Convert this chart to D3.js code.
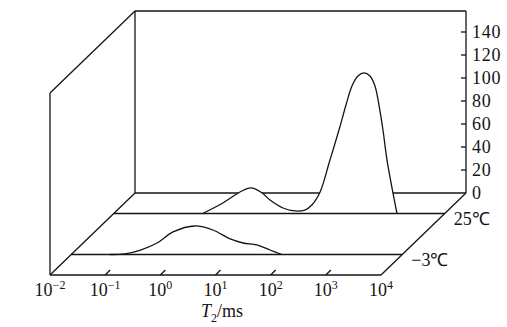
<!DOCTYPE html>
<html>
<head>
<meta charset="utf-8">
<script src="https://cdn.jsdelivr.net/npm/d3@7"></script>
<style>
  html, body { margin: 0; padding: 0; background: #fff; }
  svg { display: block; }
</style>
</head>
<body>
<svg id="chart" width="507" height="327"></svg>
<script>
// T2 spectra at two temperatures, drawn as a pseudo-3D waterfall
const xTicks = [1e-2, 1e-1, 1e0, 1e1, 1e2, 1e3, 1e4];
const xExps = ['−2', '−1', '0', '1', '2', '3', '4'];
const yTicks = [0, 20, 40, 60, 80, 100, 120, 140];

const seriesNames = ['−3℃', '25℃'];
const seriesDepth = [1, 3];          // slot in the depth direction (0 = front, 4 = back)

// T2 (ms) and amplitude
const coldT2  = [0.05, 0.093, 0.18, 0.36, 0.70, 1.75, 3.7, 7.6, 13, 23, 40, 66];
const coldAmp = [0, 0.5, 3.9, 10, 19.6, 24.8, 21.3, 13.5, 10, 8.3, 3.9, 0];

const warmT2  = [0.41, 0.95, 1.94, 3.08, 4.9, 6.8, 11.7, 19.3, 29, 39, 55, 83, 121, 162, 208, 267, 344, 441, 543, 642, 759, 898, 1153, 1362];
const warmAmp = [0, 9.1, 18.7, 22.2, 17.8, 11.7, 4.8, 2.2, 3.0, 7.4, 18.7, 46.5, 72.6, 94.3, 110.9, 119.6, 122.2, 119.6, 110.9, 94.3, 72.6, 46.5, 17.8, 0];

(function() {
    const svg = d3.select('#chart');
    const FONT = '"Liberation Serif", "Times New Roman", serif';
    const INK = '#141414';

    // front plane geometry, depth offset per full depth
    const x = d3.scaleLog().domain([1e-2, 1e4]).range([50, 381]);
    const depth = d3.scaleLinear().domain([0, 4]).range([0, 1]);
    const DX = 85, DY = -82;
    const FRONT_Y = 275;
    const y = d3.scaleLinear().domain([0, 140]).range([193, 32]);   // back plane axis
    const hPx = function(v) { return y(0) - y(v); };
    const curve = d3.curveCatmullRom.alpha(0.5);

    function off(d) { return [DX * depth(d), DY * depth(d)]; }
    function line(x1, y1, x2, y2) {
        svg.append('line')
            .attr('x1', x1).attr('y1', y1).attr('x2', x2).attr('y2', y2)
            .attr('stroke', INK).attr('stroke-width', 1.3);
    }

    const x0 = x.range()[0], x1 = x.range()[1];
    const back = off(4);
    const topY = 11;

    // back plane + left wall
    line(x0 + back[0], topY, x1 + back[0], topY);
    line(x0 + back[0], topY, x0 + back[0], y(0));
    line(x1 + back[0], topY, x1 + back[0], y(0));
    line(x0 + back[0], y(0), x1 + back[0], y(0));
    line(x0, topY - DY, x0 + back[0], topY);
    line(x0, topY - DY, x0, FRONT_Y);
    // floor diagonals
    line(x0, FRONT_Y, x0 + back[0], FRONT_Y + back[1]);
    line(x1, FRONT_Y, x1 + back[0], FRONT_Y + back[1]);

    // right axis ticks and labels
    yTicks.forEach(function(t) {
        const yy = y(t);
        if (t > 0) line(x1 + back[0] - 5, yy, x1 + back[0], yy);
        svg.append('text')
            .attr('x', x1 + back[0] + 6).attr('y', yy + 6)
            .attr('font-family', FONT).attr('font-size', 18)
            .attr('letter-spacing', 0.8)
            .attr('fill', INK)
            .text(t);
    });

    // series, back to front
    const data = [
        { t2: warmT2, amp: warmAmp, name: seriesNames[1], d: seriesDepth[1] },
        { t2: coldT2, amp: coldAmp, name: seriesNames[0], d: seriesDepth[0] },
    ];
    data.forEach(function(s) {
        const o = off(s.d);
        const base = FRONT_Y + o[1];
        const pts = s.t2.map(function(t, i) { return [x(t) + o[0], base - hPx(s.amp[i])]; });

        svg.append('path')
            .datum(pts)
            .attr('d', d3.area().x(function(p) { return p[0]; }).y0(base).y1(function(p) { return p[1]; })
                .curve(curve))
            .attr('fill', '#fff');

        line(x0 + o[0], base, x1 + o[0], base);

        svg.append('path')
            .datum(pts)
            .attr('d', d3.line().curve(curve))
            .attr('fill', 'none')
            .attr('stroke', INK).attr('stroke-width', 1.3);

        svg.append('text')
            .attr('x', x1 + o[0] + 9).attr('y', base + 11)
            .attr('font-family', FONT).attr('font-size', 18)
            .attr('fill', INK)
            .text(s.name);
    });

    // front edge + x ticks
    line(x0, FRONT_Y, x1, FRONT_Y);
    xTicks.forEach(function(t, i) {
        const xx = x(t);
        if (i > 0 && i < xTicks.length - 1) line(xx, FRONT_Y, xx + 5, FRONT_Y - 5);
        const lab = svg.append('text')
            .attr('x', xx).attr('y', 296)
            .attr('text-anchor', 'middle')
            .attr('font-family', FONT).attr('font-size', 18)
            .attr('fill', INK);
        lab.append('tspan').text('10');
        lab.append('tspan').attr('dy', -7).attr('font-size', 12).text(xExps[i]);
    });

    // x title
    const title = svg.append('text')
        .attr('x', 222).attr('y', 317)
        .attr('text-anchor', 'middle')
        .attr('font-family', FONT).attr('font-size', 18)
        .attr('fill', INK);
    title.append('tspan').attr('font-style', 'italic').text('T');
    title.append('tspan').attr('dy', 5).attr('font-size', 12).text('2');
    title.append('tspan').attr('dy', -5).text('/ms');
})();
</script>
</body>
</html>
